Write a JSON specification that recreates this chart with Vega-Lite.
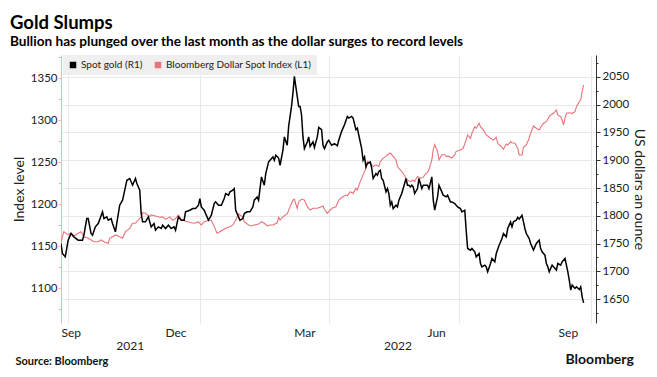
{
  "$schema": "https://vega.github.io/schema/vega-lite/v6.json",
  "width": 535,
  "height": 268,
  "autosize": {"type": "none"},
  "padding": {"left": 61, "top": 55, "right": 61, "bottom": 54},
  "background": "white",
  "title": {
    "text": "Gold Slumps",
    "subtitle": "Bullion has plunged over the last month as the dollar surges to record levels",
    "anchor": "start",
    "frame": "group",
    "dx": -51,
    "offset": 6,
    "font": "Lato",
    "fontSize": 18.5,
    "fontWeight": "bold",
    "color": "#000000",
    "subtitleFont": "Lato",
    "subtitleFontSize": 13.6,
    "subtitleFontWeight": "bold",
    "subtitleColor": "#000000",
    "subtitlePadding": 3
  },
  "config": {
    "view": {"stroke": null},
    "font": "Lato",
    "axis": {"labelFont": "Lato", "titleFont": "Lato"},
    "legend": {"labelFont": "Lato"}
  },
  "datasets": {
    "gold": [
      {"date": "2021-09-26", "v": 1750}, {"date": "2021-09-27", "v": 1732}, {"date": "2021-09-29", "v": 1726},
      {"date": "2021-10-01", "v": 1756}, {"date": "2021-10-03", "v": 1768}, {"date": "2021-10-05", "v": 1762},
      {"date": "2021-10-08", "v": 1756}, {"date": "2021-10-11", "v": 1756}, {"date": "2021-10-12", "v": 1765},
      {"date": "2021-10-14", "v": 1795}, {"date": "2021-10-15", "v": 1795}, {"date": "2021-10-17", "v": 1768},
      {"date": "2021-10-18", "v": 1765}, {"date": "2021-10-20", "v": 1780}, {"date": "2021-10-22", "v": 1786},
      {"date": "2021-10-25", "v": 1807}, {"date": "2021-10-26", "v": 1795}, {"date": "2021-10-28", "v": 1798},
      {"date": "2021-10-29", "v": 1792}, {"date": "2021-10-31", "v": 1795}, {"date": "2021-11-01", "v": 1786},
      {"date": "2021-11-03", "v": 1771}, {"date": "2021-11-06", "v": 1819}, {"date": "2021-11-08", "v": 1828},
      {"date": "2021-11-09", "v": 1840}, {"date": "2021-11-11", "v": 1864}, {"date": "2021-11-13", "v": 1867},
      {"date": "2021-11-15", "v": 1855}, {"date": "2021-11-17", "v": 1867}, {"date": "2021-11-18", "v": 1858},
      {"date": "2021-11-20", "v": 1846}, {"date": "2021-11-21", "v": 1804}, {"date": "2021-11-22", "v": 1789},
      {"date": "2021-11-24", "v": 1789}, {"date": "2021-11-26", "v": 1798}, {"date": "2021-11-28", "v": 1780},
      {"date": "2021-11-30", "v": 1786}, {"date": "2021-12-01", "v": 1774}, {"date": "2021-12-03", "v": 1780},
      {"date": "2021-12-05", "v": 1777}, {"date": "2021-12-06", "v": 1783}, {"date": "2021-12-08", "v": 1777},
      {"date": "2021-12-10", "v": 1783}, {"date": "2021-12-12", "v": 1777}, {"date": "2021-12-14", "v": 1780},
      {"date": "2021-12-15", "v": 1774}, {"date": "2021-12-17", "v": 1798}, {"date": "2021-12-19", "v": 1792},
      {"date": "2021-12-21", "v": 1792}, {"date": "2021-12-22", "v": 1807}, {"date": "2021-12-25", "v": 1810},
      {"date": "2021-12-27", "v": 1813}, {"date": "2021-12-29", "v": 1813}, {"date": "2021-12-31", "v": 1819},
      {"date": "2022-01-01", "v": 1831}, {"date": "2022-01-02", "v": 1816}, {"date": "2022-01-04", "v": 1810},
      {"date": "2022-01-06", "v": 1798}, {"date": "2022-01-07", "v": 1792}, {"date": "2022-01-09", "v": 1801},
      {"date": "2022-01-11", "v": 1822}, {"date": "2022-01-12", "v": 1825}, {"date": "2022-01-14", "v": 1819},
      {"date": "2022-01-16", "v": 1819}, {"date": "2022-01-18", "v": 1831}, {"date": "2022-01-19", "v": 1840},
      {"date": "2022-01-21", "v": 1837}, {"date": "2022-01-22", "v": 1843}, {"date": "2022-01-24", "v": 1846},
      {"date": "2022-01-25", "v": 1849}, {"date": "2022-01-26", "v": 1810}, {"date": "2022-01-28", "v": 1798},
      {"date": "2022-01-29", "v": 1792}, {"date": "2022-01-31", "v": 1795}, {"date": "2022-02-01", "v": 1804},
      {"date": "2022-02-03", "v": 1807}, {"date": "2022-02-05", "v": 1807}, {"date": "2022-02-07", "v": 1816},
      {"date": "2022-02-08", "v": 1828}, {"date": "2022-02-10", "v": 1834}, {"date": "2022-02-11", "v": 1828},
      {"date": "2022-02-12", "v": 1849}, {"date": "2022-02-13", "v": 1870}, {"date": "2022-02-15", "v": 1855},
      {"date": "2022-02-16", "v": 1876}, {"date": "2022-02-18", "v": 1897}, {"date": "2022-02-19", "v": 1900},
      {"date": "2022-02-21", "v": 1906}, {"date": "2022-02-22", "v": 1900}, {"date": "2022-02-23", "v": 1909},
      {"date": "2022-02-25", "v": 1904}, {"date": "2022-02-26", "v": 1891}, {"date": "2022-02-28", "v": 1918},
      {"date": "2022-03-01", "v": 1942}, {"date": "2022-03-03", "v": 1927}, {"date": "2022-03-04", "v": 1961},
      {"date": "2022-03-06", "v": 1997}, {"date": "2022-03-07", "v": 2021}, {"date": "2022-03-08", "v": 2051},
      {"date": "2022-03-10", "v": 2015}, {"date": "2022-03-11", "v": 1997}, {"date": "2022-03-12", "v": 1997},
      {"date": "2022-03-13", "v": 1982}, {"date": "2022-03-14", "v": 1942}, {"date": "2022-03-15", "v": 1921},
      {"date": "2022-03-17", "v": 1933}, {"date": "2022-03-18", "v": 1942}, {"date": "2022-03-19", "v": 1925},
      {"date": "2022-03-21", "v": 1933}, {"date": "2022-03-22", "v": 1923}, {"date": "2022-03-24", "v": 1942},
      {"date": "2022-03-25", "v": 1959}, {"date": "2022-03-27", "v": 1955}, {"date": "2022-03-28", "v": 1927},
      {"date": "2022-03-29", "v": 1921}, {"date": "2022-03-31", "v": 1933}, {"date": "2022-04-01", "v": 1936},
      {"date": "2022-04-03", "v": 1927}, {"date": "2022-04-05", "v": 1930}, {"date": "2022-04-07", "v": 1926},
      {"date": "2022-04-08", "v": 1936}, {"date": "2022-04-10", "v": 1952}, {"date": "2022-04-12", "v": 1964},
      {"date": "2022-04-14", "v": 1979}, {"date": "2022-04-15", "v": 1976}, {"date": "2022-04-17", "v": 1979},
      {"date": "2022-04-18", "v": 1976}, {"date": "2022-04-20", "v": 1955}, {"date": "2022-04-21", "v": 1958},
      {"date": "2022-04-22", "v": 1945}, {"date": "2022-04-24", "v": 1921}, {"date": "2022-04-25", "v": 1900},
      {"date": "2022-04-26", "v": 1906}, {"date": "2022-04-27", "v": 1888}, {"date": "2022-04-28", "v": 1894},
      {"date": "2022-04-30", "v": 1897}, {"date": "2022-05-01", "v": 1886}, {"date": "2022-05-02", "v": 1867},
      {"date": "2022-05-04", "v": 1876}, {"date": "2022-05-05", "v": 1873}, {"date": "2022-05-06", "v": 1880},
      {"date": "2022-05-07", "v": 1882}, {"date": "2022-05-08", "v": 1867}, {"date": "2022-05-09", "v": 1864},
      {"date": "2022-05-11", "v": 1843}, {"date": "2022-05-12", "v": 1849}, {"date": "2022-05-13", "v": 1840},
      {"date": "2022-05-14", "v": 1819}, {"date": "2022-05-15", "v": 1825}, {"date": "2022-05-16", "v": 1813},
      {"date": "2022-05-18", "v": 1819}, {"date": "2022-05-19", "v": 1816}, {"date": "2022-05-20", "v": 1828},
      {"date": "2022-05-21", "v": 1834}, {"date": "2022-05-22", "v": 1840}, {"date": "2022-05-23", "v": 1849},
      {"date": "2022-05-25", "v": 1867}, {"date": "2022-05-26", "v": 1855}, {"date": "2022-05-27", "v": 1855},
      {"date": "2022-05-28", "v": 1852}, {"date": "2022-05-29", "v": 1855}, {"date": "2022-05-30", "v": 1852},
      {"date": "2022-05-31", "v": 1840}, {"date": "2022-06-02", "v": 1849}, {"date": "2022-06-03", "v": 1867},
      {"date": "2022-06-05", "v": 1849}, {"date": "2022-06-06", "v": 1855}, {"date": "2022-06-09", "v": 1855},
      {"date": "2022-06-10", "v": 1849}, {"date": "2022-06-12", "v": 1870}, {"date": "2022-06-13", "v": 1828},
      {"date": "2022-06-14", "v": 1810}, {"date": "2022-06-16", "v": 1834}, {"date": "2022-06-17", "v": 1855},
      {"date": "2022-06-19", "v": 1843}, {"date": "2022-06-20", "v": 1837}, {"date": "2022-06-22", "v": 1834},
      {"date": "2022-06-23", "v": 1837}, {"date": "2022-06-25", "v": 1825}, {"date": "2022-06-26", "v": 1825},
      {"date": "2022-06-28", "v": 1822}, {"date": "2022-06-30", "v": 1816}, {"date": "2022-07-02", "v": 1813},
      {"date": "2022-07-03", "v": 1807}, {"date": "2022-07-05", "v": 1810}, {"date": "2022-07-06", "v": 1774},
      {"date": "2022-07-07", "v": 1741}, {"date": "2022-07-09", "v": 1738}, {"date": "2022-07-10", "v": 1741},
      {"date": "2022-07-12", "v": 1735}, {"date": "2022-07-13", "v": 1726}, {"date": "2022-07-15", "v": 1732},
      {"date": "2022-07-16", "v": 1714}, {"date": "2022-07-17", "v": 1708}, {"date": "2022-07-19", "v": 1711},
      {"date": "2022-07-20", "v": 1708}, {"date": "2022-07-21", "v": 1699}, {"date": "2022-07-23", "v": 1714},
      {"date": "2022-07-24", "v": 1723}, {"date": "2022-07-26", "v": 1717}, {"date": "2022-07-27", "v": 1732},
      {"date": "2022-07-29", "v": 1747}, {"date": "2022-07-31", "v": 1759}, {"date": "2022-08-01", "v": 1768},
      {"date": "2022-08-03", "v": 1762}, {"date": "2022-08-04", "v": 1777}, {"date": "2022-08-06", "v": 1789},
      {"date": "2022-08-07", "v": 1780}, {"date": "2022-08-08", "v": 1789}, {"date": "2022-08-10", "v": 1792},
      {"date": "2022-08-11", "v": 1797}, {"date": "2022-08-12", "v": 1794}, {"date": "2022-08-14", "v": 1801},
      {"date": "2022-08-16", "v": 1777}, {"date": "2022-08-17", "v": 1768}, {"date": "2022-08-19", "v": 1759},
      {"date": "2022-08-20", "v": 1750}, {"date": "2022-08-22", "v": 1738}, {"date": "2022-08-24", "v": 1750},
      {"date": "2022-08-26", "v": 1756}, {"date": "2022-08-27", "v": 1741}, {"date": "2022-08-28", "v": 1735},
      {"date": "2022-08-30", "v": 1729}, {"date": "2022-08-31", "v": 1714}, {"date": "2022-09-01", "v": 1708},
      {"date": "2022-09-02", "v": 1699}, {"date": "2022-09-04", "v": 1711}, {"date": "2022-09-05", "v": 1708},
      {"date": "2022-09-07", "v": 1702}, {"date": "2022-09-08", "v": 1714}, {"date": "2022-09-10", "v": 1711},
      {"date": "2022-09-11", "v": 1717}, {"date": "2022-09-13", "v": 1723}, {"date": "2022-09-14", "v": 1711},
      {"date": "2022-09-15", "v": 1699}, {"date": "2022-09-16", "v": 1684}, {"date": "2022-09-17", "v": 1666},
      {"date": "2022-09-18", "v": 1675}, {"date": "2022-09-20", "v": 1669}, {"date": "2022-09-21", "v": 1672},
      {"date": "2022-09-23", "v": 1667}, {"date": "2022-09-24", "v": 1672}, {"date": "2022-09-25", "v": 1654},
      {"date": "2022-09-26", "v": 1643}
    ],
    "dxy": [
      {"date": "2021-09-26", "v": 1153.6}, {"date": "2021-09-27", "v": 1161.4}, {"date": "2021-09-28", "v": 1167.4},
      {"date": "2021-10-01", "v": 1163.5}, {"date": "2021-10-03", "v": 1165.5}, {"date": "2021-10-05", "v": 1162.3},
      {"date": "2021-10-08", "v": 1165.5}, {"date": "2021-10-10", "v": 1167.4}, {"date": "2021-10-12", "v": 1161.4},
      {"date": "2021-10-15", "v": 1159.5}, {"date": "2021-10-17", "v": 1157.5}, {"date": "2021-10-19", "v": 1155.5},
      {"date": "2021-10-22", "v": 1155.5}, {"date": "2021-10-24", "v": 1157.5}, {"date": "2021-10-26", "v": 1155.5},
      {"date": "2021-10-29", "v": 1153.6}, {"date": "2021-10-30", "v": 1159.5}, {"date": "2021-11-01", "v": 1161.4},
      {"date": "2021-11-03", "v": 1163.5}, {"date": "2021-11-06", "v": 1161.4}, {"date": "2021-11-08", "v": 1159.5},
      {"date": "2021-11-10", "v": 1167.4}, {"date": "2021-11-13", "v": 1171.4}, {"date": "2021-11-15", "v": 1177.4},
      {"date": "2021-11-17", "v": 1177.4}, {"date": "2021-11-19", "v": 1181.3}, {"date": "2021-11-21", "v": 1185.2},
      {"date": "2021-11-22", "v": 1190}, {"date": "2021-11-24", "v": 1189.3}, {"date": "2021-11-27", "v": 1185.2},
      {"date": "2021-11-28", "v": 1187.3}, {"date": "2021-12-01", "v": 1186}, {"date": "2021-12-04", "v": 1184.5},
      {"date": "2021-12-06", "v": 1185}, {"date": "2021-12-08", "v": 1182}, {"date": "2021-12-11", "v": 1185},
      {"date": "2021-12-13", "v": 1181}, {"date": "2021-12-15", "v": 1183}, {"date": "2021-12-17", "v": 1187},
      {"date": "2021-12-19", "v": 1182}, {"date": "2021-12-21", "v": 1180.5}, {"date": "2021-12-24", "v": 1179},
      {"date": "2021-12-26", "v": 1178}, {"date": "2021-12-28", "v": 1177.4}, {"date": "2021-12-31", "v": 1179},
      {"date": "2022-01-02", "v": 1175.4}, {"date": "2022-01-04", "v": 1179}, {"date": "2022-01-07", "v": 1181},
      {"date": "2022-01-09", "v": 1181}, {"date": "2022-01-11", "v": 1173.4}, {"date": "2022-01-13", "v": 1165.5},
      {"date": "2022-01-15", "v": 1167.4}, {"date": "2022-01-17", "v": 1169.4}, {"date": "2022-01-19", "v": 1171.4},
      {"date": "2022-01-22", "v": 1173.4}, {"date": "2022-01-24", "v": 1175.4}, {"date": "2022-01-26", "v": 1181},
      {"date": "2022-01-28", "v": 1188.5}, {"date": "2022-01-30", "v": 1186}, {"date": "2022-01-31", "v": 1185.2},
      {"date": "2022-02-01", "v": 1179.3}, {"date": "2022-02-04", "v": 1175.4}, {"date": "2022-02-06", "v": 1174.2},
      {"date": "2022-02-08", "v": 1175.4}, {"date": "2022-02-11", "v": 1176.5}, {"date": "2022-02-13", "v": 1179.3},
      {"date": "2022-02-15", "v": 1177.4}, {"date": "2022-02-17", "v": 1174.2}, {"date": "2022-02-19", "v": 1175.4},
      {"date": "2022-02-21", "v": 1175.4}, {"date": "2022-02-24", "v": 1178}, {"date": "2022-02-25", "v": 1184.5},
      {"date": "2022-02-26", "v": 1181.3}, {"date": "2022-02-28", "v": 1185.2}, {"date": "2022-03-03", "v": 1188.5},
      {"date": "2022-03-05", "v": 1197.2}, {"date": "2022-03-07", "v": 1205.1}, {"date": "2022-03-08", "v": 1206},
      {"date": "2022-03-10", "v": 1195.2}, {"date": "2022-03-11", "v": 1203.1}, {"date": "2022-03-13", "v": 1206},
      {"date": "2022-03-15", "v": 1205.1}, {"date": "2022-03-17", "v": 1197.2}, {"date": "2022-03-19", "v": 1193.2},
      {"date": "2022-03-21", "v": 1195.2}, {"date": "2022-03-24", "v": 1195.2}, {"date": "2022-03-26", "v": 1196.4},
      {"date": "2022-03-28", "v": 1198}, {"date": "2022-03-29", "v": 1194}, {"date": "2022-03-31", "v": 1189.3},
      {"date": "2022-04-02", "v": 1193.2}, {"date": "2022-04-04", "v": 1196}, {"date": "2022-04-06", "v": 1197},
      {"date": "2022-04-08", "v": 1205}, {"date": "2022-04-10", "v": 1208}, {"date": "2022-04-13", "v": 1211},
      {"date": "2022-04-14", "v": 1210}, {"date": "2022-04-16", "v": 1215}, {"date": "2022-04-18", "v": 1213},
      {"date": "2022-04-20", "v": 1219}, {"date": "2022-04-21", "v": 1217}, {"date": "2022-04-23", "v": 1227},
      {"date": "2022-04-25", "v": 1235}, {"date": "2022-04-27", "v": 1243}, {"date": "2022-04-28", "v": 1251},
      {"date": "2022-04-30", "v": 1249}, {"date": "2022-05-02", "v": 1245}, {"date": "2022-05-04", "v": 1247},
      {"date": "2022-05-06", "v": 1245}, {"date": "2022-05-07", "v": 1251}, {"date": "2022-05-09", "v": 1255},
      {"date": "2022-05-11", "v": 1257}, {"date": "2022-05-12", "v": 1259}, {"date": "2022-05-14", "v": 1261},
      {"date": "2022-05-16", "v": 1257}, {"date": "2022-05-18", "v": 1253}, {"date": "2022-05-19", "v": 1245},
      {"date": "2022-05-21", "v": 1241}, {"date": "2022-05-23", "v": 1237}, {"date": "2022-05-25", "v": 1231},
      {"date": "2022-05-26", "v": 1229}, {"date": "2022-05-28", "v": 1227}, {"date": "2022-05-30", "v": 1229},
      {"date": "2022-05-31", "v": 1227}, {"date": "2022-06-02", "v": 1233}, {"date": "2022-06-04", "v": 1231},
      {"date": "2022-06-06", "v": 1232}, {"date": "2022-06-07", "v": 1235}, {"date": "2022-06-09", "v": 1238},
      {"date": "2022-06-10", "v": 1241}, {"date": "2022-06-12", "v": 1253}, {"date": "2022-06-13", "v": 1265},
      {"date": "2022-06-14", "v": 1271}, {"date": "2022-06-16", "v": 1263}, {"date": "2022-06-17", "v": 1253},
      {"date": "2022-06-19", "v": 1259}, {"date": "2022-06-21", "v": 1259}, {"date": "2022-06-22", "v": 1257},
      {"date": "2022-06-24", "v": 1257}, {"date": "2022-06-26", "v": 1255}, {"date": "2022-06-28", "v": 1259},
      {"date": "2022-06-29", "v": 1263}, {"date": "2022-07-01", "v": 1264}, {"date": "2022-07-03", "v": 1265.5},
      {"date": "2022-07-04", "v": 1267}, {"date": "2022-07-06", "v": 1277}, {"date": "2022-07-07", "v": 1282.5},
      {"date": "2022-07-09", "v": 1278.6}, {"date": "2022-07-10", "v": 1284.5}, {"date": "2022-07-12", "v": 1292.4},
      {"date": "2022-07-13", "v": 1290.5}, {"date": "2022-07-15", "v": 1296.4}, {"date": "2022-07-16", "v": 1292.4},
      {"date": "2022-07-18", "v": 1288.5}, {"date": "2022-07-20", "v": 1282.5}, {"date": "2022-07-21", "v": 1281.3},
      {"date": "2022-07-23", "v": 1278.6}, {"date": "2022-07-25", "v": 1276.5}, {"date": "2022-07-27", "v": 1279.8},
      {"date": "2022-07-28", "v": 1272.6}, {"date": "2022-07-30", "v": 1269.4}, {"date": "2022-08-01", "v": 1265.5},
      {"date": "2022-08-03", "v": 1271.8}, {"date": "2022-08-04", "v": 1270.6}, {"date": "2022-08-06", "v": 1274.5},
      {"date": "2022-08-07", "v": 1273.3}, {"date": "2022-08-09", "v": 1272.6}, {"date": "2022-08-11", "v": 1266.7},
      {"date": "2022-08-12", "v": 1258.7}, {"date": "2022-08-14", "v": 1258.7}, {"date": "2022-08-15", "v": 1267.9},
      {"date": "2022-08-17", "v": 1270.6}, {"date": "2022-08-19", "v": 1278.6}, {"date": "2022-08-20", "v": 1284.5},
      {"date": "2022-08-22", "v": 1293.2}, {"date": "2022-08-24", "v": 1290.5}, {"date": "2022-08-26", "v": 1288.5},
      {"date": "2022-08-28", "v": 1294.4}, {"date": "2022-08-29", "v": 1296.4}, {"date": "2022-08-31", "v": 1298.3},
      {"date": "2022-09-02", "v": 1304.3}, {"date": "2022-09-03", "v": 1306.3}, {"date": "2022-09-05", "v": 1308.3},
      {"date": "2022-09-07", "v": 1312.3}, {"date": "2022-09-08", "v": 1306.3}, {"date": "2022-09-10", "v": 1304.3},
      {"date": "2022-09-11", "v": 1300.4}, {"date": "2022-09-12", "v": 1294.4}, {"date": "2022-09-13", "v": 1302.4},
      {"date": "2022-09-14", "v": 1308.3}, {"date": "2022-09-16", "v": 1309}, {"date": "2022-09-18", "v": 1308.3},
      {"date": "2022-09-20", "v": 1310.2}, {"date": "2022-09-21", "v": 1316.2}, {"date": "2022-09-23", "v": 1322.1},
      {"date": "2022-09-24", "v": 1324.1}, {"date": "2022-09-25", "v": 1334}, {"date": "2022-09-26", "v": 1342}
    ]
  },
  "layer": [
    {
      "data": {"name": "dxy"},
      "mark": {"type": "line", "strokeWidth": 1.1, "clip": true, "interpolate": "linear"},
      "encoding": {
        "x": {
          "field": "date", "type": "temporal",
          "scale": {"domain": [{"year": 2021, "month": 9, "date": 26, "utc": true}, {"year": 2022, "month": 10, "date": 4, "hours": 16, "utc": true}]},
          "axis": {
            "orient": "bottom",
            "values": [
              {"year": 2021, "month": 9, "date": 26, "utc": true},
              {"year": 2021, "month": 12, "date": 15, "utc": true},
              {"year": 2022, "month": 3, "date": 15, "utc": true},
              {"year": 2022, "month": 6, "date": 15, "utc": true},
              {"year": 2022, "month": 9, "date": 15, "utc": true}
            ],
            "labelExpr": "utcFormat(datum.value, '%b')",
            "labelFlush": true,
            "labelOverlap": false,
            "ticks": false, "domain": false, "grid": false,
            "labelPadding": 4, "labelFontSize": 12, "labelColor": "#222222",
            "title": null
          }
        },
        "y": {
          "field": "v", "type": "quantitative",
          "scale": {"domain": [1058.7, 1377.7], "nice": false, "zero": false},
          "axis": {
            "orient": "left",
            "values": [1075, 1100, 1125, 1150, 1175, 1200, 1225, 1250, 1275, 1300, 1325, 1350, 1375],
            "labelExpr": "datum.value % 50 === 0 ? '' + datum.value : ''",
            "grid": false,
            "tickSize": 3, "tickColor": "#f0b4b4", "domainColor": "#f0b4b4",
            "labelPadding": 1, "labelFontSize": 11.5, "labelColor": "#222222",
            "title": "Index level", "titleFontSize": 14, "titleFontWeight": "normal",
            "titleColor": "#222222", "titlePadding": 4
          }
        },
        "color": {
          "datum": "Bloomberg Dollar Spot Index (L1)",
          "scale": {"domain": ["Spot gold (R1)", "Bloomberg Dollar Spot Index (L1)"], "range": ["#000000", "#e8737a"]},
          "legend": {
            "orient": "none", "legendX": 2, "legendY": 0, "direction": "horizontal",
            "title": null, "fillColor": "#efefef", "padding": 5,
            "symbolType": "square", "symbolSize": 42, "symbolStrokeWidth": 0,
            "labelFontSize": 10, "labelColor": "#222222", "columnPadding": 10, "labelOffset": 3,
            "encode": {"symbols": {"update": {"fill": {"scale": "color", "field": "value"}}}}
          }
        }
      }
    },
    {
      "data": {"name": "gold"},
      "mark": {"type": "line", "strokeWidth": 1.5, "clip": true},
      "encoding": {
        "x": {
          "field": "date", "type": "temporal",
          "scale": {"domain": [{"year": 2021, "month": 9, "date": 26, "utc": true}, {"year": 2022, "month": 10, "date": 4, "hours": 16, "utc": true}]},
          "axis": {
            "orient": "bottom",
            "values": [
              {"year": 2021, "month": 10, "date": 1, "utc": true},
              {"year": 2022, "month": 1, "date": 1, "utc": true},
              {"year": 2022, "month": 4, "date": 1, "utc": true},
              {"year": 2022, "month": 7, "date": 1, "utc": true},
              {"year": 2022, "month": 10, "date": 1, "utc": true}
            ],
            "grid": true, "gridColor": "#e8e8e8", "gridWidth": 1,
            "labels": false, "ticks": false, "domain": false,
            "title": "Bloomberg", "titleX": 504, "titleY": 40, "titleAlign": "left",
            "titleBaseline": "alphabetic", "titleFontSize": 14, "titleFontWeight": "bold", "titleColor": "#111111"
          }
        },
        "y": {
          "field": "v", "type": "quantitative",
          "scale": {"domain": [1606.8, 2089.6], "nice": false, "zero": false},
          "axis": {
            "orient": "right",
            "values": [1625, 1650, 1675, 1700, 1725, 1750, 1775, 1800, 1825, 1850, 1875, 1900, 1925, 1950, 1975, 2000, 2025, 2050, 2075],
            "labelExpr": "datum.value % 50 === 0 ? '' + datum.value : ''",
            "grid": true, "gridColor": "#e8e8e8",
            "gridOpacity": {"condition": {"test": "datum.value % 50 === 0", "value": 1}, "value": 0},
            "tickSize": {"condition": {"test": "datum.value % 50 === 0", "value": 4}, "value": 2},
            "tickColor": "#333333", "domainColor": "#333333",
            "labelPadding": 2, "labelFontSize": 11.5, "labelColor": "#222222",
            "title": "US dollars an ounce", "titleFontSize": 14, "titleFontWeight": "normal",
            "titleColor": "#222222", "titlePadding": 3
          }
        },
        "color": {
          "datum": "Spot gold (R1)",
          "legend": {
            "orient": "none", "legendX": 2, "legendY": 0, "direction": "horizontal",
            "title": null, "fillColor": "#efefef", "padding": 5,
            "symbolType": "square", "symbolSize": 42, "symbolStrokeWidth": 0,
            "labelFontSize": 10, "labelColor": "#222222", "columnPadding": 10, "labelOffset": 3,
            "encode": {"symbols": {"update": {"fill": {"scale": "color", "field": "value"}}}}
          }
        }
      }
    },
    {
      "data": {"name": "gold"},
      "mark": {"type": "point", "opacity": 0},
      "encoding": {
        "x": {
          "field": "date", "type": "temporal",
          "scale": {"domain": [{"year": 2021, "month": 9, "date": 26, "utc": true}, {"year": 2022, "month": 10, "date": 4, "hours": 16, "utc": true}]},
          "axis": {
            "orient": "bottom",
            "values": [
              {"year": 2021, "month": 11, "date": 13, "utc": true},
              {"year": 2022, "month": 5, "date": 19, "utc": true}
            ],
            "labelExpr": "utcFormat(datum.value, '%Y')",
            "labelOverlap": false,
            "ticks": false, "domain": false, "grid": false,
            "labelPadding": 17, "labelFontSize": 12, "labelColor": "#222222",
            "title": "Source: Bloomberg", "titleX": -46, "titleY": 41, "titleAlign": "left",
            "titleBaseline": "alphabetic", "titleFontSize": 11, "titleFontWeight": "bold", "titleColor": "#111111"
          }
        },
        "y": {"field": "v", "type": "quantitative", "scale": {"domain": [1606.8, 2089.6], "nice": false, "zero": false}, "axis": null}
      }
    }
  ],
  "resolve": {"scale": {"y": "independent"}, "axis": {"x": "independent", "y": "independent"}}
}
